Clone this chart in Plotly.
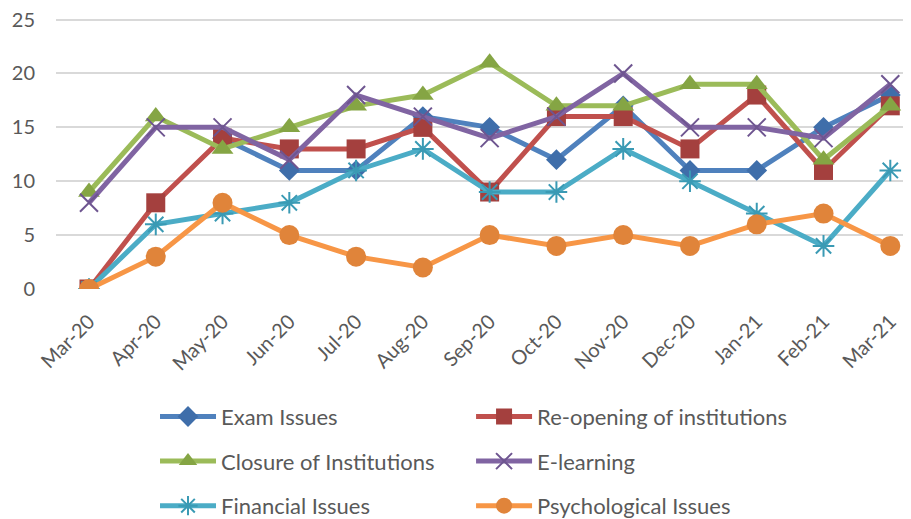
import plotly.graph_objects as go

months = ["Mar-20", "Apr-20", "May-20", "Jun-20", "Jul-20", "Aug-20", "Sep-20",
          "Oct-20", "Nov-20", "Dec-20", "Jan-21", "Feb-21", "Mar-21"]
exam_issues = [None, None, 14, 11, 11, 16, 15, 12, 17, 11, 11, 15, 18]
reopening = [0, 8, 14, 13, 13, 15, 9, 16, 16, 13, 18, 11, 17]
closure = [9, 16, 13, 15, 17, 18, 21, 17, 17, 19, 19, 12, 17]
elearning = [8, 15, 15, 12, 18, 16, 14, 16, 20, 15, 15, 14, 19]
financial = [0, 6, 7, 8, 11, 13, 9, 9, 13, 10, 7, 4, 11]
psychological = [0, 3, 8, 5, 3, 2, 5, 4, 5, 4, 6, 7, 4]
y_ticks = [0, 5, 10, 15, 20, 25]

FONT = "Lato"
series = [
    ("Exam Issues", exam_issues, "#4F81BD", "#3F6EAA", "diamond", 16, "legend", "g1"),
    ("Re-opening of institutions", reopening, "#C0504D", "#A4403E", "square", 19, "legend2", "g2"),
    ("Closure of Institutions", closure, "#9BBB59", "#85A544", "triangle-up", 19, "legend", "g3"),
    ("E-learning", elearning, "#8064A2", "#6E5590", "x-thin-open", 18, "legend2", "g4"),
    ("Financial Issues", financial, "#4BACC6", "#3A9AB4", "asterisk-open", 18, "legend", "g5"),
    ("Psychological Issues", psychological, "#F79646", "#E0843A", "circle", 20, "legend2", "g6"),
]

fig = go.Figure()
for name, vals, lc, mc, sym, sz, leg, grp in series:
    open_sym = sym.endswith("open")
    fig.add_trace(go.Scatter(
        x=list(range(len(months))), y=vals, name=name, mode="lines+markers",
        line=dict(color=lc, width=5),
        marker=dict(symbol=sym, size=sz, color=mc,
                    line=dict(color=mc, width=2 if open_sym else 0)),
        legend=leg, legendgroup=grp,
    ))

fig.update_layout(
    width=903, height=511,
    margin=dict(l=48, r=0, t=10, b=230, autoexpand=False),
    plot_bgcolor="white", paper_bgcolor="white",
    font=dict(family=FONT, color="#595959"),
    xaxis=dict(
        tickmode="array", tickvals=list(range(len(months))), ticktext=months,
        range=[-0.494, 12.31], tickangle=-45, showgrid=False, zeroline=False,
        showline=False, ticklabelstandoff=16,
        tickfont=dict(size=20, family=FONT, color="#595959"),
        automargin=False,
    ),
    yaxis=dict(
        range=[0, 25.15], tickmode="array", tickvals=y_ticks,
        ticktext=[str(v) for v in y_ticks], ticklabeloverflow="allow",
        showgrid=True, gridcolor="#D9D9D9", gridwidth=1.5,
        zeroline=False, showline=False, ticks="", ticklabelstandoff=20,
        tickfont=dict(size=20, family=FONT, color="#595959"), automargin=False,
    ),
    legend=dict(
        xref="container", yref="container", x=0.1628, y=0.2413,
        xanchor="left", yanchor="top", orientation="v",
        font=dict(size=22, family=FONT, color="#595959"),
        tracegroupgap=13, itemwidth=56, bgcolor="rgba(0,0,0,0)",
    ),
    legend2=dict(
        xref="container", yref="container", x=0.5128, y=0.2413,
        xanchor="left", yanchor="top", orientation="v",
        font=dict(size=22, family=FONT, color="#595959"),
        tracegroupgap=13, itemwidth=56, bgcolor="rgba(0,0,0,0)",
    ),
)

fig.write_html("out.html")
